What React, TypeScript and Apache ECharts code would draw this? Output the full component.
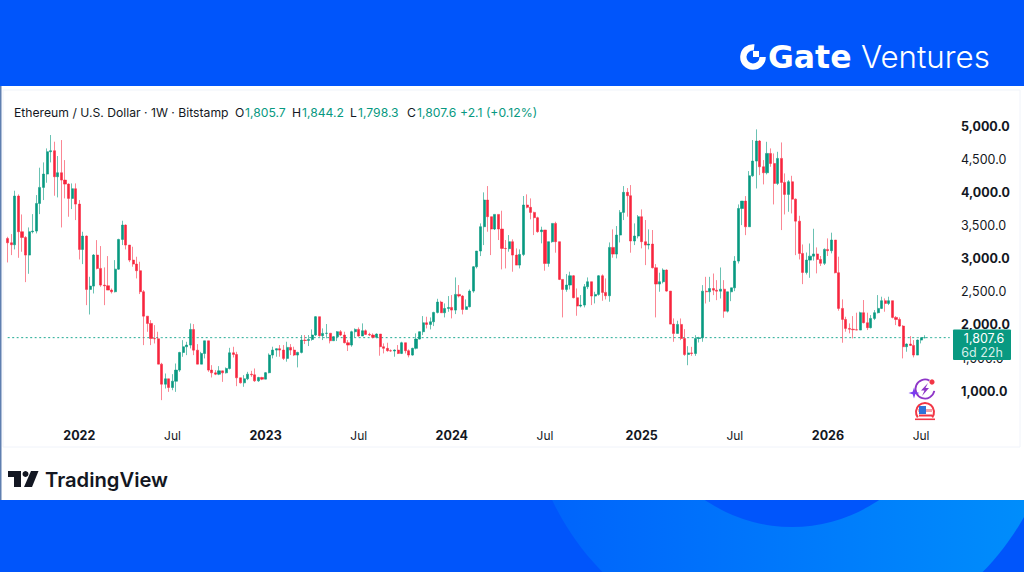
import React, { useEffect, useRef } from "react";
import * as echarts from "echarts";

const firstOpen = 3304;
const closes = [
3239,3209,3943,3405,3319,3053,3405,3415,3832,4074,
4275,4612,4627,4235,4295,4184,4124,3908,4054,3822,
3138,3339,2535,2585,3053,2852,2600,2590,2525,2500,
2841,3289,3505,3204,2977,2917,2817,2500,2132,2022,
1795,1790,1408,1106,1187,1056,1151,1318,1584,1670,
1695,1931,1619,1408,1569,1760,1318,1277,1257,1307,
1277,1343,1579,1554,1202,1126,1187,1257,1247,1156,
1207,1182,1279,1545,1620,1641,1620,1495,1661,1620,
1545,1585,1771,1765,1781,1847,2124,1837,1872,1875,
1761,1822,1897,1847,1731,1696,1897,1932,1832,1912,
1857,1847,1812,1862,1671,1646,1611,1606,1620,1570,
1731,1611,1545,1646,1786,1897,2032,2007,2047,2188,
2344,2183,2248,2263,2223,2460,2435,2233,2274,2510,
2877,3114,3481,3883,3632,3446,3667,3446,3154,3150,
3255,3053,2902,3063,3808,3773,3697,3617,3406,3431,
2927,3255,3531,3255,2686,2535,2601,2741,2410,2284,
2299,2575,2651,2435,2460,2741,2490,2440,3169,3068,
3355,3697,3999,3949,3265,3340,3632,3255,3204,3219,
2862,2616,2651,2827,2510,2012,1871,2007,1795,1553,
1578,1568,1795,1805,2509,2499,2549,2524,2509,2539,
2207,2499,2559,2962,3756,3867,3480,4249,4471,4773,
4385,4295,4586,4435,4134,4511,4149,3968,4159,3897,
3565,3078,2791,2977,3037,3070,2988,2928,3139,3119,
3280,2787,2249,2083,1947,1935,1927,1922,2184,2033,
1958,2098,2184,2249,2365,2324,2365,2113,2083,1982,
1671,1711,1691,1545,1771,1805.7,1807.6,
];
const highs = [
3329,3370,4024,3968,3666,3339,3470,3671,3958,4371,
4451,4662,4864,4763,4547,4788,4486,4134,4134,4134,
3883,3405,3349,2726,3068,3279,3189,2867,3038,2550,
2977,3299,3571,3515,3204,3179,3028,2952,2525,2132,
2072,1997,1896,1428,1267,1187,1257,1418,1594,1770,
1745,2022,2012,1710,1594,1760,1760,1393,1318,1378,
1307,1358,1654,1670,1594,1202,1242,1292,1307,1343,
1217,1217,1290,1570,1671,1646,1696,1696,1746,1711,
1671,1595,1847,1847,1847,1932,2134,2114,1947,2013,
1872,1832,1907,1922,1897,1771,1912,1947,1962,2023,
1932,1882,1872,1872,1847,1721,1731,1631,1631,1696,
1746,1731,1631,1656,1872,1900,2133,2123,2113,2198,
2394,2364,2324,2435,2450,2716,2601,2450,2384,2535,
2887,3114,3531,3999,4094,3632,3667,3642,3722,3280,
3355,3290,3154,3139,3944,3969,3908,3707,3632,3481,
3431,3255,3531,3556,3255,2686,2767,2802,2751,2550,
2450,2616,2716,2651,2500,2751,2762,2701,3244,3441,
3491,3732,4094,4064,4109,3531,3657,3742,3582,3441,
3431,2917,2787,2852,2837,2510,2098,2063,2097,1936,
1679,1669,1845,1820,2600,2725,2725,2775,2675,2866,
2675,2499,2559,3037,3817,3867,3943,4320,4788,4949,
4788,4486,4762,4662,4586,4611,4752,4285,4184,4249,
3907,3646,3213,3092,3228,3450,3169,3039,3154,3305,
3391,3280,3029,2385,2123,2023,2133,2184,2199,2375,
2184,2148,2224,2450,2425,2400,2425,2365,2133,2113,
1997,1721,1831,1771,1781,1811,1844.2,
];
const lows = [
2942,3053,3138,3012,3103,2645,2771,3380,3380,3671,
3883,4144,4451,3948,3923,3470,3908,3631,3747,3581,
2987,2917,2298,2157,2474,2837,2575,2298,2525,2474,
2490,2832,3204,3138,2947,2877,2701,2465,1695,1896,
1695,1720,1408,865,1041,990,1015,990,1292,1519,
1544,1645,1544,1408,1408,1494,1292,1207,1242,1242,
1141,1267,1328,1509,1076,1116,1066,1167,1217,1141,
1141,1167,1270,1270,1495,1520,1520,1470,1445,1545,
1530,1359,1570,1711,1681,1761,1832,1822,1771,1797,
1721,1761,1756,1832,1721,1606,1671,1812,1822,1832,
1847,1832,1797,1797,1535,1570,1595,1595,1520,1560,
1560,1570,1510,1535,1631,1780,1846,1947,1932,1982,
2173,2183,2113,2198,2098,2163,2414,2158,2233,2264,
2485,2852,3038,3204,3405,3053,3431,3280,2837,2852,
3104,2802,2902,2852,3038,3758,3592,3355,3390,3230,
2817,2877,3240,3089,2676,2113,2500,2535,2400,2138,
2264,2264,2540,2299,2324,2440,2364,2384,2349,3013,
3003,3244,3581,3632,3089,3204,3305,3154,2902,3139,
2852,2113,2500,2626,2500,2012,1745,1871,1770,1533,
1392,1533,1533,1735,1745,2323,2348,2449,2373,2398,
2107,2187,2358,2509,2926,3505,3354,3480,4234,4058,
4259,4119,4270,4385,3817,4109,3430,3666,3706,3681,
3052,2987,2615,2761,2710,2970,2777,2888,2903,3039,
3079,2777,2214,1731,1897,1872,1796,1920,1922,2023,
1922,1947,2073,2173,2239,2199,2299,2098,1997,1972,
1495,1595,1681,1510,1545,1721,1798.3,
];
const axisLabels: Record<number, string> = {
  20: "2022", 46: "Jul", 72: "2023", 98: "Jul", 124: "2024",
  150: "Jul", 177: "2025", 203: "Jul", 229: "2026", 255: "Jul",
};
const rightPadWeeks = 7;
const lastPrice = 1807.6;
const BLUE = "#0055fb";
const UP = "#089981";
const DOWN = "#f7253d";
const INK = "#131722";
const FONT = "Inter, Roboto, sans-serif";

const weeks = Array.from({ length: closes.length + rightPadWeeks }, (_, i) => String(i));
const candles = closes.map((c, i) => {
  const o = i === 0 ? firstOpen : closes[i - 1];
  return [o, c, Math.min(lows[i], o, c), Math.max(highs[i], o, c)];
});

const txt = (x: number, y: number, text: string, fill: string, fontSize = 12.2, extra: any = {}) => ({
  type: "text", x, y, z: 50,
  style: { text, fill, fontSize, fontFamily: FONT, textVerticalAlign: "middle", ...extra },
});
const legend: [number, string, string][] = [
  [14, "Ethereum / U.S. Dollar · 1W · Bitstamp", INK],
  [235, "O", INK], [245, "1,805.7", UP],
  [292, "H", INK], [302, "1,844.2", UP],
  [350, "L", INK], [358, "1,798.3", UP],
  [407, "C", INK], [417, "1,807.6", UP],
  [460, "+2.1 (+0.12%)", UP],
];

export default function App() {
  const ref = useRef<HTMLDivElement>(null);
  useEffect(() => {
    const chart = echarts.init(ref.current!, null, { renderer: "svg" });
    const ringFill = new echarts.graphic.LinearGradient(0, 0, 1, 0, [
      { offset: 0, color: "#0062fb" },
      { offset: 1, color: "#0090fb" },
    ]);
    chart.setOption({
      animation: false,
      backgroundColor: "#ffffff",
      grid: { left: 5.9, right: 1024 - 951.5, top: 92.85, height: 331.5, containLabel: false },
      xAxis: {
        type: "category",
        data: weeks,
        boundaryGap: true,
        axisLine: { show: false },
        axisTick: { show: false },
        splitLine: { show: false },
        axisLabel: {
          interval: (i: number) => axisLabels[i] !== undefined,
          margin: 5,
          hideOverlap: false,
          formatter: (_v: string, i: number) => {
            const t = axisLabels[i] ?? "";
            return t === "Jul" ? `{m|${t}}` : `{y|${t}}`;
          },
          rich: {
            m: { fontFamily: FONT, fontSize: 12, color: INK },
            y: { fontFamily: FONT, fontSize: 12.5, fontWeight: 700, color: INK },
          },
        },
      },
      yAxis: {
        type: "value",
        position: "right",
        min: 500,
        max: 5500,
        interval: 500,
        axisLine: { show: false },
        axisTick: { show: false },
        splitLine: { show: false },
        axisLabel: {
          margin: 9.5,
          showMinLabel: false,
          showMaxLabel: false,
          formatter: (v: number) => {
            const s = v.toLocaleString("en-US", { minimumFractionDigits: 1 });
            return v % 1000 === 0 ? `{b|${s}}` : `{r|${s}}`;
          },
          rich: {
            b: { fontFamily: FONT, fontSize: 12.5, fontWeight: 700, color: INK },
            r: { fontFamily: FONT, fontSize: 12.5, color: INK },
          },
        },
      },
      series: [
        {
          type: "line",
          z: 1,
          data: weeks.map(() => lastPrice),
          symbol: "none",
          silent: true,
          lineStyle: { color: "#22ab94", type: [2, 2.5], width: 1 },
        },
        {
          type: "candlestick",
          z: 2,
          data: candles,
          barWidth: 2.6,
          clip: false,
          itemStyle: {
            color: UP, color0: DOWN,
            borderColor: "rgba(8,153,129,0.6)", borderColor0: "rgba(247,37,61,0.55)",
            borderWidth: 1,
          },
        },
      ],
      graphic: { elements: [
        { type: "rect", z: -30, shape: { x: 0, y: 0, width: 1024, height: 572 }, style: { fill: BLUE } },
        { type: "circle", z: -29, shape: { cx: 792.5, cy: 386, r: 266 }, style: { fill: ringFill } },
        { type: "circle", z: -28, shape: { cx: 792, cy: 373, r: 154 }, style: { fill: BLUE } },
        { type: "rect", z: -27, shape: { x: 0, y: 86, width: 1024, height: 414 }, style: { fill: "#ffffff" } },
        { type: "rect", z: -26, shape: { x: 0, y: 86, width: 1.5, height: 414 }, style: { fill: "#5f7fb0" } },
        { type: "rect", z: -26, shape: { x: 3, y: 90, width: 1017, height: 357 }, style: { fill: "none", stroke: "#f0f3fa", lineWidth: 1 } },
        // Gate logo
        { type: "sector", z: 50, shape: { cx: 753, cy: 57, r0: 6.5, r: 12.8, startAngle: 0, endAngle: -1.45, clockwise: true }, style: { fill: "#fff" } },
        { type: "rect", z: 50, shape: { x: 753, y: 51, width: 6, height: 6 }, style: { fill: "#fff" } },
        { type: "text", x: 768, y: 57, z: 50, style: { text: "Gate", fill: "#fff", fontSize: 31.5, fontWeight: 700, fontFamily: "DejaVu Sans", textVerticalAlign: "middle" } },
        { type: "text", x: 861, y: 57, z: 50, style: { text: "Ventures", fill: "#fff", fontSize: 31.3, fontWeight: 300, fontFamily: "Inter", textVerticalAlign: "middle" } },
        // TradingView logo
        { type: "polygon", z: 50, shape: { points: [[8, 471], [21, 471], [21, 487], [14, 487], [14, 477], [8, 477]] }, style: { fill: INK } },
        { type: "circle", z: 50, shape: { cx: 25.5, cy: 474, r: 3 }, style: { fill: INK } },
        { type: "polygon", z: 50, shape: { points: [[31, 471], [38.5, 471], [32, 487], [24, 487]] }, style: { fill: INK } },
        { type: "text", x: 45, y: 479, z: 50, style: { text: "TradingView", fill: INK, fontSize: 20.2, fontWeight: 600, fontFamily: "Inter", textVerticalAlign: "middle" } },
        // header legend
        ...legend.map(([x, t, c]) => txt(x, 112, t, c)),
        // last price tag
        { type: "rect", z: 60, shape: { x: 953, y: 329.5, width: 58, height: 30.5, r: 1 }, style: { fill: UP } },
        { type: "text", x: 984, y: 338.5, z: 61, style: { text: "1,807.6", fill: "#fff", fontSize: 12.5, fontFamily: FONT, textAlign: "center", textVerticalAlign: "middle" } },
        { type: "text", x: 982, y: 352, z: 61, style: { text: "6d 22h", fill: "#d5efe9", fontSize: 12.5, fontFamily: FONT, textAlign: "center", textVerticalAlign: "middle" } },
        // event icons
        { type: "arc", z: 55, shape: { cx: 925, cy: 389, r: 9.5, startAngle: 0.2, endAngle: 5.2 }, style: { fill: "none", stroke: "#8e35c8", lineWidth: 1.8 } },
        { type: "polygon", z: 56, shape: { points: [[928, 383], [921, 390.5], [924.5, 390.5], [922, 396], [929, 388], [925.5, 388]] }, style: { fill: "#8e35c8" } },
        { type: "polygon", z: 56, shape: { points: [[914, 387.5], [915.3, 391.7], [919.5, 393], [915.3, 394.3], [914, 398.5], [912.7, 394.3], [908.5, 393], [912.7, 391.7]] }, style: { fill: "#7a3cf0" } },
        { type: "circle", z: 57, shape: { cx: 932, cy: 382, r: 2.6 }, style: { fill: "#f23645" } },
        { type: "sector", z: 55, shape: { cx: 925, cy: 412, r0: 8, r: 10, startAngle: 2.5, endAngle: 0.64, clockwise: true }, style: { fill: "#f23645" } },
        { type: "rect", z: 56, shape: { x: 918, y: 409, width: 14, height: 3 }, style: { fill: "#f4a0a8" } },
        { type: "rect", z: 56, shape: { x: 919, y: 414.5, width: 13, height: 2 }, style: { fill: "#f23645" } },
        { type: "rect", z: 57, shape: { x: 919, y: 406, width: 7, height: 8 }, style: { fill: "#2f73d8" } },
        { type: "rect", z: 55, shape: { x: 915, y: 418.5, width: 20, height: 1.6 }, style: { fill: "#f23645" } },
      ] },
    });
    return () => chart.dispose();
  }, []);
  return <div ref={ref} style={{ position: "fixed", left: 0, top: 0, width: 1024, height: 572 }} />;
}
